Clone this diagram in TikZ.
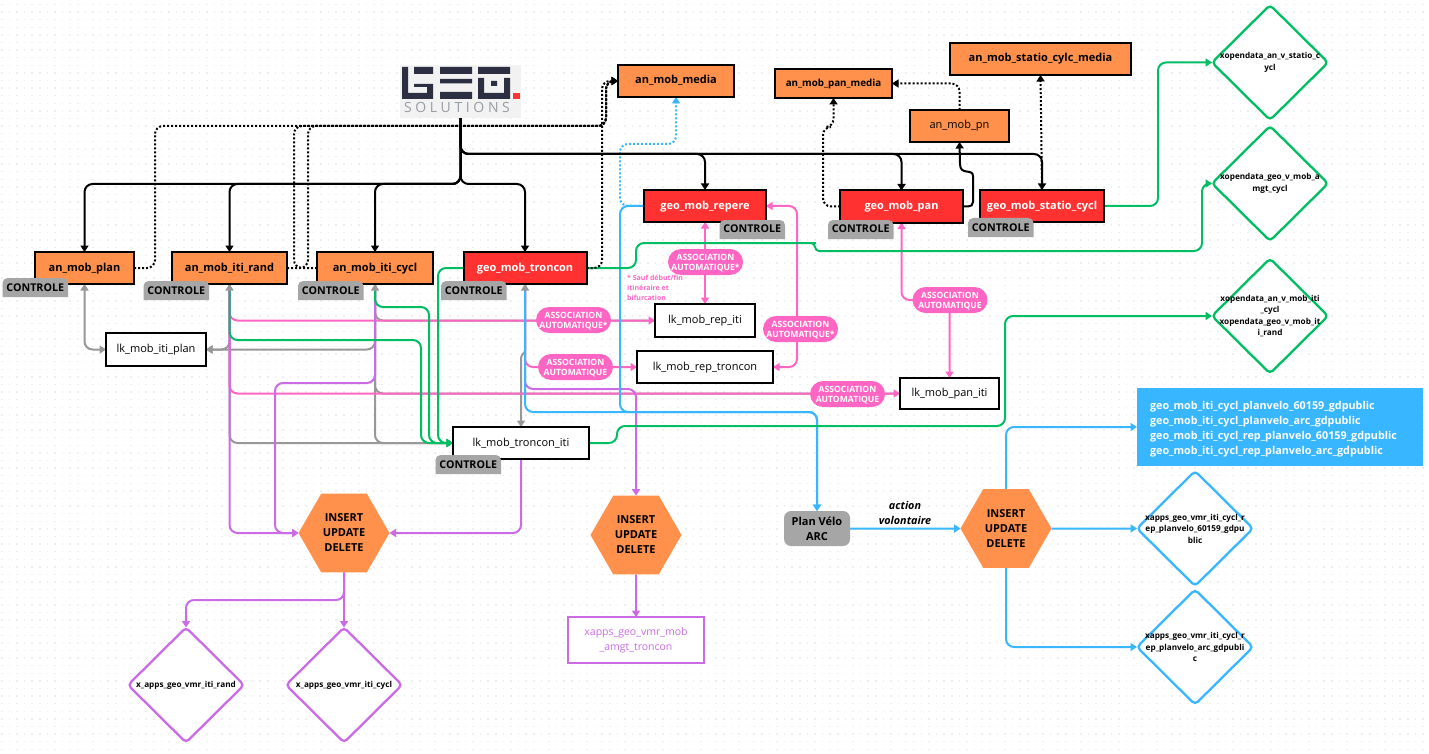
\documentclass[tikz,border=0pt]{standalone}
\usepackage{fontspec}
\setmainfont{Open Sans}
\usetikzlibrary{arrows.meta,shapes.geometric,calc}
\definecolor{orangeb}{HTML}{FF914D}
\definecolor{redb}{HTML}{FF3131}
\definecolor{pinkc}{HTML}{FF66C4}
\definecolor{greenc}{HTML}{00BF63}
\definecolor{bluec}{HTML}{38B6FF}
\definecolor{purplec}{HTML}{CB6CE6}
\definecolor{greyc}{HTML}{A6A6A6}
\definecolor{greyl}{HTML}{989898}
\definecolor{logod}{HTML}{2B2F41}
\definecolor{logog}{HTML}{9A9CA5}
\definecolor{gridc}{HTML}{EFEFEF}
\pgfdeclarelayer{bgl}
\pgfdeclarelayer{conn}
\pgfsetlayers{bgl,conn,main}
\newcommand\fsz[2]{\fontsize{#1}{#2}\selectfont}
\newcommand\ctag[3]{%
  \fill[greyc] (#2,#3+19) [rounded corners=5pt] -- (#2,#3) -- (#2+65.5,#3) [sharp corners] -- (#2+65.5,#3+19) -- cycle;
  \node[tagtext] (#1) at (#2+32.75,#3+9.5) {CONTROLE};}
\tikzset{
  box/.style={draw=black,line width=2pt,rectangle,inner sep=0pt,outer sep=0pt,align=center,text=black,text height=8pt,text depth=2pt},
  orb/.style={box,fill=orangeb,font=\fsz{11}{13}\bfseries},
  redbx/.style={box,fill=redb,text=white,font=\fsz{11}{13}\bfseries},
  lkb/.style={box,fill=white,font=\fsz{11}{13}},
  tagtext/.style={font=\fsz{10.7}{13}\bfseries,inner sep=0pt,text=black,text height=8pt,text depth=1pt},
  pill/.style={rectangle,rounded corners=13pt,fill=pinkc,text=white,minimum width=75pt,minimum height=26pt,inner sep=0pt,outer sep=0pt,align=center,text depth=0pt,font=\fsz{8.6}{10}\bfseries},
  dia/.style={diamond,draw=#1,fill=white,line width=2.3pt,rounded corners=4pt,minimum width=116pt,minimum height=115pt,inner sep=0pt,outer sep=0pt,aspect=1},
  dtxt/.style={font=\fsz{8.2}{11.5}\bfseries,align=center,text=black,inner sep=0pt},
  hexa/.style={regular polygon,regular polygon sides=6,minimum size=91pt,fill=orangeb,inner sep=0pt,outer sep=0pt,align=center,text depth=0pt,font=\fsz{11}{15}\bfseries,text=black},
  con/.style={line width=2pt,rounded corners=8pt},
  tip/.style={-{Triangle[width=8pt,length=6.5pt]}},
  tips/.style={{Triangle[width=8pt,length=6.5pt]}-{Triangle[width=8pt,length=6.5pt]}},
  stip/.style={{Triangle[width=8pt,length=6.5pt]}-},
  dotl/.style={con,dash pattern=on 2pt off 2pt},
}
\begin{document}
\begin{tikzpicture}[x=1pt,y=-1pt]
\useasboundingbox (0,0) rectangle (1429,754);
\begin{pgfonlayer}{bgl}
\fill[white] (0,0) rectangle (1429,754);
\foreach \yy in {4.5,12.1,...,754}
  \draw[gridc,line width=1.5pt,dash pattern=on 1.5pt off 6.1pt] (1,\yy) -- (1429,\yy);
\end{pgfonlayer}

% logo
\node[rectangle,fill=black!5,minimum width=121pt,minimum height=53pt,inner sep=0pt,outer sep=0pt] (logo) at (460.5,91.5) {};
\fill[logod] (402,67) rectangle (408,99) (402,93) rectangle (433,99) (427,84) rectangle (433,99) (414,84) rectangle (433,87) (414,67) rectangle (433,74);
\fill[logod] (440,67) rectangle (472,74) (440,79) rectangle (472,83.5) (440,92) rectangle (472,99);
\fill[logod] (478,67) rectangle (510,74) (478,78) rectangle (484,99) (504,78) rectangle (510,99) (478,93) rectangle (510,99) (491,81) rectangle (497,86);
\fill[redb] (513,93) rectangle (520,99);
\node[inner sep=0pt,text=logog,text height=10pt,text depth=0pt,font=\fsz{14}{15}\addfontfeatures{LetterSpace=26}] (logotxt) at (457,108) {SOLUTIONS};

% orange / red boxes
\node[orb,minimum width=99pt,minimum height=32pt] (plan) at (84.5,268) {an\_mob\_plan};
\node[orb,minimum width=115pt,minimum height=32pt] (rand) at (229.5,268) {an\_mob\_iti\_rand};
\node[orb,minimum width=116pt,minimum height=32pt] (cycl) at (375,268) {an\_mob\_iti\_cycl};
\node[redbx,minimum width=123pt,minimum height=32pt] (tron) at (525,268) {geo\_mob\_troncon};
\node[orb,minimum width=116pt,minimum height=32pt] (media) at (676,81) {an\_mob\_media};
\node[orb,minimum width=117pt,minimum height=29pt,font=\fsz{9.8}{12}\bfseries] (panmedia) at (833.5,83.5) {an\_mob\_pan\_media};
\node[orb,minimum width=181pt,minimum height=32pt] (statiomedia) at (1040.5,59) {an\_mob\_statio\_cylc\_media};
\node[orb,minimum width=99pt,minimum height=32pt,font=\fsz{11}{13}] (pn) at (959.5,126) {an\_mob\_pn};
\node[redbx,minimum width=122pt,minimum height=32pt] (repere) at (705,206) {geo\_mob\_repere};
\node[redbx,minimum width=123pt,minimum height=32pt] (pan) at (901.5,206.5) {geo\_mob\_pan};
\node[redbx,minimum width=124pt,minimum height=32pt] (statio) at (1042,206) {geo\_mob\_statio\_cycl};
% link boxes
\node[lkb,minimum width=100pt,minimum height=33pt] (lkplan) at (156,349.5) {lk\_mob\_iti\_plan};
\node[lkb,minimum width=136pt,minimum height=32pt] (lktr) at (521,443) {lk\_mob\_troncon\_iti};
\node[lkb,minimum width=100pt,minimum height=33pt] (lkrepiti) at (705,320.5) {lk\_mob\_rep\_iti};
\node[lkb,minimum width=136pt,minimum height=32pt] (lkreptr) at (705,367) {lk\_mob\_rep\_troncon};
\node[lkb,minimum width=99pt,minimum height=31pt] (lkpan) at (949.5,393.5) {lk\_mob\_pan\_iti};

% diamonds
\node[dia=greenc,label={[dtxt]center:xopendata\_an\_v\_statio\_c\\ycl}] (d1) at (1270,62.5) {};
\node[dia=greenc,label={[dtxt]center:xopendata\_geo\_v\_mob\_a\\mgt\_cycl}] (d2) at (1270,183.5) {};
\node[dia=greenc,label={[dtxt]center:xopendata\_an\_v\_mob\_iti\\\_cycl\\xopendata\_geo\_v\_mob\_it\\i\_rand}] (d3) at (1270,316) {};
\node[dia=bluec,label={[dtxt]center:xapps\_geo\_vmr\_iti\_cycl\_r\\ep\_planvelo\_60159\_gdpu\\blic}] (d4) at (1195,528.5) {};
\node[dia=bluec,label={[dtxt]center:xapps\_geo\_vmr\_iti\_cycl\_r\\ep\_planvelo\_arc\_gdpubli\\c}] (d5) at (1195,647) {};
\node[dia=purplec,label={[dtxt]center:x\_apps\_geo\_vmr\_iti\_rand}] (d6) at (186,685) {};
\node[dia=purplec,label={[dtxt]center:x\_apps\_geo\_vmr\_iti\_cycl}] (d7) at (344,685) {};

% hexagons
\node[hexa] (hex1) at (344,533) {INSERT\\UPDATE\\DELETE};
\node[hexa] (hex2) at (636,535) {INSERT\\UPDATE\\DELETE};
\node[hexa] (hex3) at (1006,528.5) {INSERT\\UPDATE\\DELETE};

% others
\node[rectangle,fill=bluec,minimum width=286pt,minimum height=78pt,inner sep=0pt,outer sep=0pt,label={[text=white,inner sep=0pt,align=left,text width=260pt,yshift=-2pt,font=\fsz{10.8}{15}\bfseries]center:geo\_mob\_iti\_cycl\_planvelo\_60159\_gdpublic\\geo\_mob\_iti\_cycl\_planvelo\_arc\_gdpublic\\geo\_mob\_iti\_cycl\_rep\_planvelo\_60159\_gdpublic\\geo\_mob\_iti\_cycl\_rep\_planvelo\_arc\_gdpublic}] (bluebox) at (1280,427) {};
\node[draw=purplec,line width=2pt,rectangle,fill=white,text=purplec,minimum width=136pt,minimum height=46pt,inner sep=0pt,outer sep=0pt,align=center,font=\fsz{10.5}{15}] (xbox) at (636,640) {xapps\_geo\_vmr\_mob\\\_amgt\_troncon};
\node[rectangle,rounded corners=7pt,fill=greyc,text=black,minimum width=66pt,minimum height=35pt,inner sep=0pt,outer sep=0pt,align=center,font=\fsz{11}{15}\bfseries] (pv) at (817,528.5) {Plan Vélo\\ARC};
\node[align=center,inner sep=0pt,font=\fsz{10.8}{15}\bfseries\itshape] (act) at (905,512.5) {action\\volontaire};

% pills
\node[pill] (a1) at (573.5,320) {ASSOCIATION\\AUTOMATIQUE*};
\node[pill] (a2) at (575.5,367) {ASSOCIATION\\AUTOMATIQUE};
\node[pill] (a3) at (800.5,329) {ASSOCIATION\\AUTOMATIQUE*};
\node[pill] (a4) at (847.5,394) {ASSOCIATION\\AUTOMATIQUE};
\node[pill] (a5) at (950,300) {ASSOCIATION\\AUTOMATIQUE};
\node[pill] (a6) at (705.5,262) {ASSOCIATION\\AUTOMATIQUE*};
\node[anchor=north west,inner sep=0pt,align=left,text=pinkc,font=\fsz{7}{10}\bfseries] (note) at (627,275) {* Sauf début/fin\\itinéraire et\\bifurcation};

% tags
\ctag{t1}{2.5}{278}
\ctag{t2}{143.5}{281}
\ctag{t3}{298}{281}
\ctag{t4}{441}{281}
\ctag{t5}{435.5}{455}
\ctag{t6}{719.5}{220}
\ctag{t7}{828}{220}
\ctag{t8}{968}{218}

\begin{pgfonlayer}{conn}
% grey
\begin{scope}[greyl]
\draw[con,tips] (plan.south) |- (lkplan.west);
\draw[con,tip] (rand.south) |- (lkplan.east);
\draw[con,tip] (cycl.south) |- (lkplan.east);
\draw[con,tip] (rand.south) |- (lktr.west);
\draw[con,tip] (cycl.south) |- (lktr.west);
\draw[con] (cycl.south) |- (lkrepiti.west);
\draw[con] (cycl.south) |- (lkpan.west);
\draw[line width=2pt,tip] (tron.south) -- (525,350) .. controls (525,355) and (521,352) .. (521,360) -- (lktr.north);
\end{scope}
% pink
\begin{scope}[pinkc]
\draw[con,tip] (rand.south) |- (lkrepiti.west);
\draw[con,tip] (rand.south) |- (lkpan.west);
\draw[con,tip] (tron.south) |- (lkreptr.west);
\draw[con,tips] (repere.south) -- (lkrepiti.north);
\draw[con,tips] (repere.east) -| (797,367) -- (lkreptr.east);
\draw[con,tips] (pan.south) |- (949.5,300) -- (lkpan.north);
\end{scope}
% purple
\begin{scope}[purplec]
\draw[con,tip] (rand.south) |- (hex1.west);
\draw[con,tip] (cycl.south) |- (275,383) |- (hex1.west);
\draw[con,tip] (lktr.south) |- (hex1.east);
\draw[con,tip] (tron.south) |- (636,389) -- (hex2.north);
\draw[con,tip] (hex1.south) |- (186,600) -- (d6.north);
\draw[con,tip] (hex1.south) -- (d7.north);
\draw[con,tip] (hex2.south) -- (xbox.north);
\end{scope}
% blue
\begin{scope}[bluec]
\draw[con,tip] (repere.west) -| (620,412) -| (pv.north);
\draw[con,tip] (tron.south) |- (800,412) -| (pv.north);
\draw[con,tip] (pv.east) -- (hex3.west);
\draw[con,tip] (hex3.east) -- (d4.west);
\draw[con,tip] (hex3.north) |- (bluebox.west);
\draw[con,tip] (hex3.south) |- (d5.west);
\draw[dotl,tip] (repere.west) -| (620,144) -| (media.south);
\end{scope}
% green
\begin{scope}[greenc]
\draw[con,tip] (rand.south) |- (421,340) |- (lktr.west);
\draw[con,tip] (cycl.south) |- (429,307) |- (lktr.west);
\draw[con,tip] (tron.west) -| (438,443) -- (lktr.west);
\draw[con,tip] (tron.east) -- (636,268) -- (636,243) -- (808,243) [sharp corners] -- (811,243) .. controls (816,243) and (814,251) .. (819,251) -- (825,251) [rounded corners=8pt] -- (1202,251) -- (1202,183.5) -- (d2.west);
\draw[con,tip] (lktr.east) -| (617,426) -| (1005,316) -- (d3.west);
\draw[con,tip] (statio.east) -| (1158,62.5) -- (d1.west);
\end{scope}
% grey tips on top
\draw[greyl,line width=2pt,stip] (rand.south) -- ++(0,7);
\draw[greyl,line width=2pt,stip] (cycl.south) -- ++(0,7);
\draw[greyl,line width=2pt,stip] (tron.south) -- ++(0,7);
% black
\begin{scope}[black]
\draw[con,tip] (logo.south) |- (84.5,184) -- (plan.north);
\draw[con,tip] (logo.south) |- (229.5,184) -- (rand.north);
\draw[con,tip] (logo.south) |- (375,184) -- (cycl.north);
\draw[con,tip] (logo.south) |- (525,184) -- (tron.north);
\draw[con,tip] (logo.south) |- (705,154) -- (repere.north);
\draw[con,tip] (logo.south) |- (901.5,154) -- (pan.north);
\draw[con,tip] (logo.south) |- (1042,154) -- (statio.north);
\draw[line width=2pt,tip] (pan.east) -- (968,206.5) .. controls (971,206.5) and (973,205) .. (973,202) -- (973,176) .. controls (973,168) and (960,176) .. (960,164) -- (pn.south);
\draw[dotl,tip] (plan.east) -| (155,126) -| (606,81) -- (media.west);
\draw[dotl,tip] (rand.east) -| (308,126) -| (606,81) -- (media.west);
\draw[dotl,tip] (cycl.west) -| (294,126) -| (606,81) -- (media.west);
\draw[dotl,tip] (tron.east) -| (602,81) -- (media.west);
\draw[dotl,tip] (pan.west) -| (823,127) -| (panmedia.south);
\draw[dotl,tip] (pn.north) |- (panmedia.east);
\draw[dotl,tip] (statio.north) -- (statiomedia.south);
\end{scope}
\end{pgfonlayer}
\end{tikzpicture}
\end{document}
